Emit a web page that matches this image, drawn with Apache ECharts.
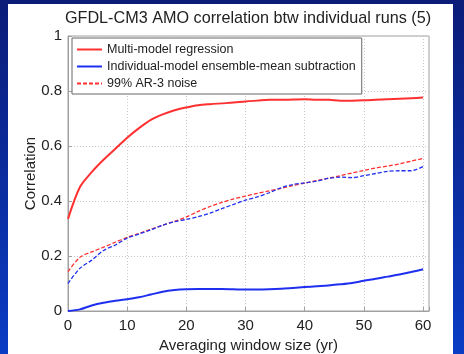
<!DOCTYPE html>
<html><head><meta charset="utf-8">
<script src="https://cdn.jsdelivr.net/npm/echarts@6/dist/echarts.min.js"></script>
<style>
html,body{margin:0;padding:0;width:464px;height:354px;overflow:hidden;}
body{background:linear-gradient(to bottom,#0b1c78 0%,#0b2c9e 50%,#0a3cc4 100%);position:relative;}
#paper{position:absolute;left:8px;top:4px;width:445px;height:350px;background:#fff;}
#chart{position:absolute;left:0;top:0;width:464px;height:354px;}
</style></head>
<body><div id="paper"></div><div id="chart"></div>
<script>
const windowSizes = [0,2,4,6,8,10,12,14,16,18,20,22,24,26,28,30,32,34,36,38,40,42,44,46,48,50,52,54,56,58,60];
const multiModel = [0.335,0.45,0.505,0.55,0.59,0.63,0.665,0.695,0.715,0.73,0.74,0.748,0.752,0.755,0.758,0.762,0.765,0.768,0.768,0.769,0.77,0.768,0.768,0.765,0.765,0.766,0.768,0.77,0.772,0.774,0.776];
const indivModel = [0.0,0.006,0.02,0.03,0.037,0.043,0.05,0.06,0.07,0.076,0.079,0.08,0.08,0.08,0.079,0.078,0.078,0.079,0.081,0.084,0.087,0.09,0.093,0.097,0.102,0.11,0.117,0.125,0.133,0.142,0.152];
const noiseRed = [0.143,0.195,0.215,0.232,0.25,0.268,0.282,0.297,0.312,0.326,0.342,0.362,0.38,0.395,0.408,0.418,0.428,0.437,0.446,0.456,0.465,0.474,0.483,0.492,0.502,0.511,0.52,0.527,0.535,0.545,0.555];
const noiseBlue = [0.1,0.155,0.185,0.22,0.24,0.265,0.28,0.295,0.312,0.325,0.333,0.343,0.356,0.372,0.388,0.403,0.415,0.43,0.448,0.46,0.466,0.472,0.482,0.487,0.485,0.492,0.5,0.508,0.51,0.51,0.525];
const xTicks = [0,10,20,30,40,50,60];
const yTicks = [0,0.2,0.4,0.6,0.8,1];
const seriesNames = ['Multi-model regression','Individual-model ensemble-mean subtraction','99% AR-3 noise'];

const pairs = a => windowSizes.map((x,i)=>[x,a[i]]);
const RED = '#ff3030', BLUE = '#1f2ff0';
const font = 'Liberation Sans, Arial, Helvetica, sans-serif';
const chart = echarts.init(document.getElementById('chart'));
chart.setOption({
  animation:false,
  textStyle:{fontFamily:font},
  title:{text:'GFDL-CM3 AMO correlation btw individual runs (5)',left:243,textAlign:'center',top:6,
    textStyle:{fontFamily:font,fontSize:16.2,fontWeight:'normal',color:'#222'}},
  grid:{left:68,right:35,top:36,bottom:43,outerBoundsMode:'none',containLabel:false,show:true,borderColor:'#a0a0a0',borderWidth:1,backgroundColor:'transparent'},
  legend:{orient:'vertical',left:72,top:38,data:seriesNames,backgroundColor:'#fff',borderColor:'#666',borderWidth:1,
    padding:[4,6,3,4],itemWidth:25,itemHeight:10,itemGap:2,
    itemStyle:{color:'rgba(0,0,0,0)',borderWidth:0,opacity:0},
    textStyle:{fontFamily:font,fontSize:12.5,color:'#222',lineHeight:15}},
  xAxis:{type:'value',min:0,max:61,interval:10,name:'Averaging window size (yr)',nameLocation:'middle',nameGap:27,nameMoveOverlap:false,
    nameTextStyle:{fontFamily:font,fontSize:15,color:'#222'},
    axisLine:{lineStyle:{color:'#a0a0a0'}},axisTick:{inside:true,length:4,lineStyle:{color:'#a0a0a0'}},
    axisLabel:{fontFamily:font,fontSize:15,color:'#222',margin:7,formatter:v=>xTicks.includes(v)?String(v):''},
    splitLine:{show:true,lineStyle:{type:[1,2],color:'#c8c8c8'}}},
  yAxis:{type:'value',min:0,max:1,interval:0.2,name:'Correlation',nameLocation:'middle',nameGap:30,nameMoveOverlap:false,
    nameTextStyle:{fontFamily:font,fontSize:15,color:'#222'},
    axisLine:{show:true,lineStyle:{color:'#a0a0a0'}},axisTick:{show:true,inside:true,length:4,lineStyle:{color:'#a0a0a0'}},
    axisLabel:{fontFamily:font,fontSize:15,color:'#222',margin:6,formatter:v=>{const t=yTicks.find(y=>Math.abs(y-v)<1e-6);return t===undefined?'':String(t);}},
    splitLine:{show:true,lineStyle:{type:[1,2],color:'#c8c8c8'}}},
  series:[
    {name:seriesNames[0],type:'line',data:pairs(multiModel),symbol:'none',smooth:0.3,lineStyle:{color:RED,width:2},itemStyle:{color:RED},z:5},
    {name:seriesNames[1],type:'line',data:pairs(indivModel),symbol:'none',smooth:0.3,lineStyle:{color:BLUE,width:2},itemStyle:{color:BLUE},z:5},
    {name:seriesNames[2],type:'line',data:pairs(noiseRed),symbol:'none',smooth:0.3,lineStyle:{color:RED,width:1.3,type:[4,2]},itemStyle:{color:RED},z:4},
    {name:'blue noise',type:'line',data:pairs(noiseBlue),symbol:'none',smooth:0.3,lineStyle:{color:BLUE,width:1.3,type:[4,2]},itemStyle:{color:BLUE},z:4}
  ]
});
</script></body></html>
